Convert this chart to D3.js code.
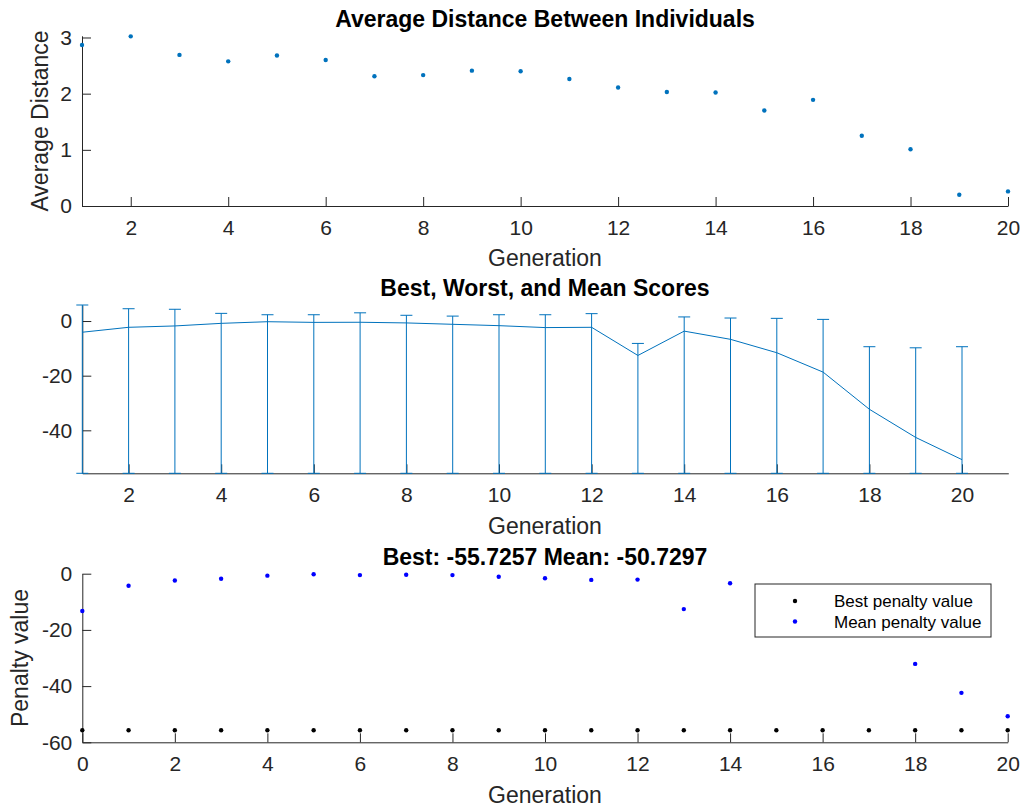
<!DOCTYPE html>
<html>
<head>
<meta charset="utf-8">
<script src="https://cdn.jsdelivr.net/npm/d3@7"></script>
<style>
  body { margin: 0; background: #fff; }
  svg { font-family: "Liberation Sans", Arial, Helvetica, sans-serif; }
</style>
</head>
<body>
<svg id="chart" width="1023" height="807"></svg>
<script>
// ---- data ----
const generations = [1, 2, 3, 4, 5, 6, 7, 8, 9, 10, 11, 12, 13, 14, 15, 16, 17, 18, 19, 20];
const avgDistance = [2.865, 3.02, 2.69, 2.575, 2.68, 2.60, 2.31, 2.33, 2.41, 2.40,
                     2.26, 2.11, 2.03, 2.02, 1.70, 1.89, 1.25, 1.01, 0.20, 0.26];

const scoreBest = [-55.7257, -55.7257, -55.7257, -55.7257, -55.7257, -55.7257, -55.7257, -55.7257, -55.7257, -55.7257,
                   -55.7257, -55.7257, -55.7257, -55.7257, -55.7257, -55.7257, -55.7257, -55.7257, -55.7257, -55.7257];
const scoreMean = [-4.1, -2.3, -1.8, -0.85, -0.25, -0.5, -0.45, -0.7, -1.2, -1.7,
                   -2.4, -2.3, -12.6, -3.7, -6.7, -11.6, -18.7, -32.3, -42.6, -50.7297];
const scoreWorst = [5.86, 4.5, 4.3, 2.8, 2.3, 2.3, 3.0, 2.1, 1.8, 2.3,
                    2.3, 2.7, -8.2, 1.5, 1.1, 0.98, 0.6, -9.4, -9.8, -9.4];

const penaltyGen = [0, 1, 2, 3, 4, 5, 6, 7, 8, 9, 10, 11, 12, 13, 14, 15, 16, 17, 18, 19, 20];
const penaltyBest = [-55.7257, -55.7257, -55.7257, -55.7257, -55.7257, -55.7257, -55.7257, -55.7257, -55.7257, -55.7257, -55.7257,
                     -55.7257, -55.7257, -55.7257, -55.7257, -55.7257, -55.7257, -55.7257, -55.7257, -55.7257, -55.7257];
const penaltyMean = [-13.3, -4.3, -2.4, -1.8, -0.7, -0.2, -0.5, -0.4, -0.5, -1.1, -1.6,
                     -2.2, -2.1, -12.6, -3.4, -6.7, -11.6, -18.7, -32.1, -42.4, -50.7297];

const distXTicks = [2, 4, 6, 8, 10, 12, 14, 16, 18, 20];
const distYTicks = [0, 1, 2, 3];
const scoreXTicks = [2, 4, 6, 8, 10, 12, 14, 16, 18, 20];
const scoreYTicks = [-40, -20, 0];
const penaltyXTicks = [0, 2, 4, 6, 8, 10, 12, 14, 16, 18, 20];
const penaltyYTicks = [-60, -40, -20, 0];
const legendLabels = ['Best penalty value', 'Mean penalty value'];

const svg = d3.select('#chart');
const axisColor = '#262626';
const blue = '#0072BD';

// plain hyphen minus, like MATLAB prints it
const tickFmt = (d) => String(d);

function drawAxes(x, y, xTicks, yTicks) {
    const [y0] = y.range();
    const [x0] = x.range();

    const gx = svg.append('g')
        .attr('transform', `translate(0,${y0})`)
        .call(d3.axisBottom(x).tickValues(xTicks).tickFormat(tickFmt)
            .tickSizeInner(-9).tickSizeOuter(0).tickPadding(14));
    const gy = svg.append('g')
        .attr('transform', `translate(${x0},0)`)
        .call(d3.axisLeft(y).tickValues(yTicks).tickFormat(tickFmt)
            .tickSizeInner(-9).tickSizeOuter(0).tickPadding(10));

    [gx, gy].forEach((g) => {
        g.attr('font-family', null).attr('font-size', 21);
        g.select('.domain').attr('stroke', axisColor);
        g.selectAll('.tick line').attr('stroke', axisColor);
        g.selectAll('.tick text').attr('fill', axisColor);
    });
}

function addText(x, y, txt, size, bold) {
    return svg.append('text')
        .attr('x', x)
        .attr('y', y)
        .attr('text-anchor', 'middle')
        .style('font-size', size + 'px')
        .style('font-weight', bold ? 'bold' : 'normal')
        .attr('fill', bold ? '#000' : axisColor)
        .text(txt);
}

// ---- top: average distance ----
const x1 = d3.scaleLinear().domain([1, 20]).range([82, 1008]);
const y1 = d3.scaleLinear().domain([0, 3.03]).range([206, 35.8]);
drawAxes(x1, y1, distXTicks, distYTicks);

svg.append('g').selectAll('circle')
    .data(generations)
    .enter()
    .append('circle')
    .attr('cx', (d) => x1(d))
    .attr('cy', (d, i) => y1(avgDistance[i]))
    .attr('r', 2.2)
    .attr('fill', blue);

addText(545, 27, 'Average Distance Between Individuals', 23, true);
addText(545, 266, 'Generation', 23, false);
addText(0, 0, 'Average Distance', 23, false)
    .attr('transform', 'translate(48,121) rotate(-90)');

// ---- middle: best, worst, mean ----
const x2 = d3.scaleLinear().domain([1, 21]).range([82.3, 1008.3]);
const y2 = d3.scaleLinear().domain([-55.7257, 5.9]).range([473.3, 304.9]);
drawAxes(x2, y2, scoreXTicks, scoreYTicks);

const bars = svg.append('g')
    .attr('stroke', blue)
    .attr('stroke-width', 1)
    .attr('fill', 'none');

generations.forEach((g, i) => {
    const cx = x2(g);
    bars.append('line')
        .attr('x1', cx).attr('x2', cx)
        .attr('y1', y2(scoreBest[i])).attr('y2', y2(scoreWorst[i]));
    bars.append('line')
        .attr('x1', cx - 6).attr('x2', cx + 6)
        .attr('y1', y2(scoreWorst[i])).attr('y2', y2(scoreWorst[i]));
    bars.append('line')
        .attr('x1', cx - 6).attr('x2', cx + 6)
        .attr('y1', y2(scoreBest[i])).attr('y2', y2(scoreBest[i]));
});

const meanLine = d3.line()
    .x((d) => x2(d))
    .y((d, i) => y2(scoreMean[i]));

bars.append('path')
    .attr('d', meanLine(generations));

addText(545, 296, 'Best, Worst, and Mean Scores', 23, true);
addText(545, 534, 'Generation', 23, false);

// ---- bottom: penalty values ----
const x3 = d3.scaleLinear().domain([0, 20]).range([82.3, 1007.7]);
const y3 = d3.scaleLinear().domain([-60, 0]).range([742.3, 573.7]);
drawAxes(x3, y3, penaltyXTicks, penaltyYTicks);

svg.append('g').selectAll('circle')
    .data(penaltyGen)
    .enter()
    .append('circle')
    .attr('cx', (d) => x3(d))
    .attr('cy', (d, i) => y3(penaltyBest[i]))
    .attr('r', 2.2)
    .attr('fill', '#000');

svg.append('g').selectAll('circle')
    .data(penaltyGen)
    .enter()
    .append('circle')
    .attr('cx', (d) => x3(d))
    .attr('cy', (d, i) => y3(penaltyMean[i]))
    .attr('r', 2.2)
    .attr('fill', '#0000FF');

addText(545, 565, 'Best: -55.7257 Mean: -50.7297', 23, true);
addText(545, 803, 'Generation', 23, false);
addText(0, 0, 'Penalty value', 23, false)
    .attr('transform', 'translate(27.5,658) rotate(-90)');

// Legend
const legend = svg.append('g').attr('transform', 'translate(755,584)');
legend.append('rect')
    .attr('width', 236)
    .attr('height', 53)
    .attr('fill', '#fff')
    .attr('stroke', axisColor)
    .attr('stroke-width', 1);

legend.selectAll('circle')
    .data(legendLabels)
    .enter()
    .append('circle')
    .attr('cx', 40)
    .attr('cy', (d, i) => 17 + i * 20.5)
    .attr('r', 2.2)
    .attr('fill', (d, i) => (i === 0 ? '#000' : '#0000FF'));

legend.selectAll('text')
    .data(legendLabels)
    .enter()
    .append('text')
    .attr('x', 79)
    .attr('y', (d, i) => 23 + i * 20.5)
    .style('font-size', '17px')
    .attr('fill', '#000')
    .text((d) => d);
</script>
</body>
</html>
